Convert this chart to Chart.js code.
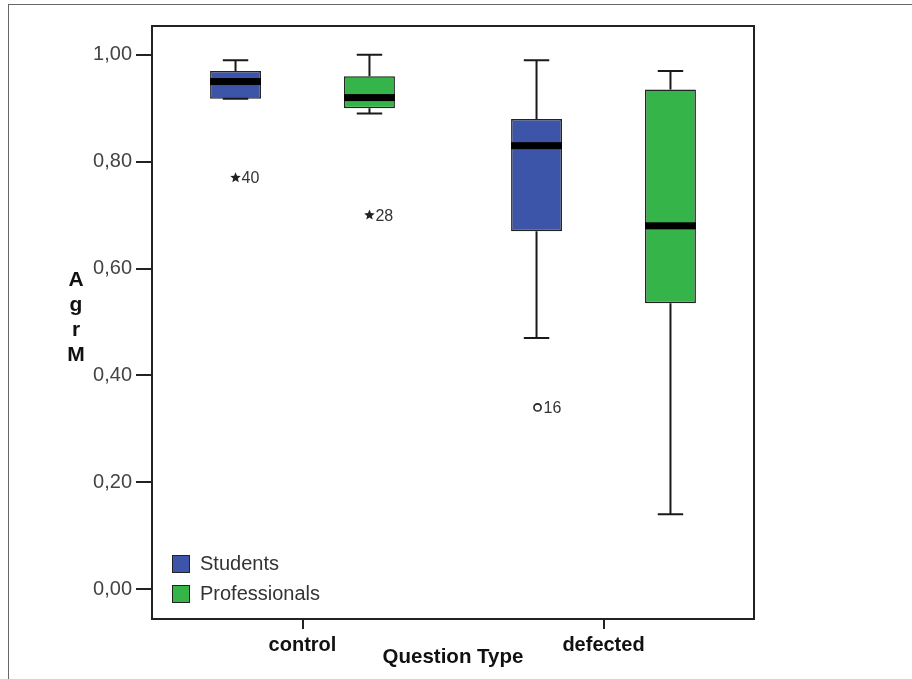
<!DOCTYPE html>
<html>
<head>
<meta charset="utf-8">
<title>AgrM by Question Type</title>
<script src="https://cdn.jsdelivr.net/npm/chart.js@4/dist/chart.umd.min.js"></script>
<style>
  html, body { margin: 0; padding: 0; background: #fff; overflow: hidden; }
  #wrap { position: relative; width: 912px; height: 679px; }
  /* outer frame of the exported figure (runs off the right and bottom edges) */
  #wrap::before {
    content: ''; position: absolute; left: 8px; top: 4px; width: 1000px; height: 1000px;
    border-left: 1px solid #666; border-top: 1px solid #666; pointer-events: none;
  }
  canvas { position: absolute; left: 0; top: 0; }
</style>
</head>
<body>
<div id="wrap"><canvas id="chart" width="912" height="679"></canvas></div>
<script>
'use strict';

/* ── data ── */
const categories   = ['control', 'defected'];
const seriesNames  = ['Students', 'Professionals'];
const seriesColors = ['#3d55a8', '#35b44a'];

const studentsLow    = [0.918, 0.47];
const studentsQ1     = [0.918, 0.67];
const studentsMedian = [0.95, 0.83];
const studentsQ3     = [0.97, 0.88];
const studentsHigh   = [0.99, 0.99];

const profLow    = [0.89, 0.14];
const profQ1     = [0.90, 0.535];
const profMedian = [0.92, 0.68];
const profQ3     = [0.96, 0.935];
const profHigh   = [1.00, 0.97];

// [category index, value, case number, marker]
const studentsOutliers = [[0, 0.77, '40', 'star'], [1, 0.34, '16', 'circle']];
const profOutliers     = [[0, 0.70, '28', 'star']];

const yTicks = [0, 0.2, 0.4, 0.6, 0.8, 1.0];

const FONT = "'Liberation Sans', Arial, Helvetica, sans-serif";
const INK  = '#1a1a1a';

function boxDataset(i, low, q1, med, q3, high, outliers) {
  return {
    label: seriesNames[i],
    data: categories.map((c, k) => [q1[k], q3[k]]),
    backgroundColor: seriesColors[i],
    borderColor: '#222',
    borderWidth: 1.5,
    borderSkipped: false,
    stats: { low, med, high, outliers }
  };
}

/* star marker for extreme values */
function drawStar(ctx, x, y, r) {
  ctx.beginPath();
  for (let k = 0; k < 10; k++) {
    const rad = k % 2 === 0 ? r : r * 0.45;
    const a = -Math.PI / 2 + k * Math.PI / 5;
    const px = x + rad * Math.cos(a), py = y + rad * Math.sin(a);
    k === 0 ? ctx.moveTo(px, py) : ctx.lineTo(px, py);
  }
  ctx.closePath();
  ctx.fill();
}

/* whiskers, medians, outliers, frame, legend, stacked y title */
const boxplotParts = {
  id: 'boxplotParts',
  afterDatasetsDraw(chart) {
    const ctx = chart.ctx;
    const y = chart.scales.y;
    ctx.save();
    chart.data.datasets.forEach((ds, di) => {
      const meta = chart.getDatasetMeta(di);
      const st = ds.stats;
      meta.data.forEach((bar, k) => {
        const x = bar.x, w = bar.width;
        const top = y.getPixelForValue(ds.data[k][1]);
        const bot = y.getPixelForValue(ds.data[k][0]);
        const hi  = y.getPixelForValue(st.high[k]);
        const lo  = y.getPixelForValue(st.low[k]);
        ctx.strokeStyle = INK;
        ctx.lineWidth = 2;
        ctx.beginPath();
        ctx.moveTo(x, top); ctx.lineTo(x, hi);
        ctx.moveTo(x - w / 4, hi); ctx.lineTo(x + w / 4, hi);
        ctx.moveTo(x, bot); ctx.lineTo(x, lo);
        ctx.moveTo(x - w / 4, lo); ctx.lineTo(x + w / 4, lo);
        ctx.stroke();
        // median bar
        const m = y.getPixelForValue(st.med[k]);
        ctx.fillStyle = '#000';
        ctx.fillRect(x - w / 2, m - 3.5, w, 7);
      });
      st.outliers.forEach(([k, v, id, mark]) => {
        const x = meta.data[k].x;
        const py = y.getPixelForValue(v);
        ctx.fillStyle = '#222';
        ctx.strokeStyle = '#222';
        if (mark === 'star') {
          drawStar(ctx, x, py, 5.5);
        } else {
          ctx.lineWidth = 1.6;
          ctx.beginPath(); ctx.arc(x + 1, py, 3.6, 0, Math.PI * 2); ctx.stroke();
        }
        ctx.fillStyle = '#333';
        ctx.font = '16px ' + FONT;
        ctx.textAlign = 'left';
        ctx.textBaseline = 'middle';
        ctx.fillText(id, x + (mark === 'star' ? 6 : 7), py + 1);
      });
    });
    ctx.restore();
  },
  afterDraw(chart) {
    const ctx = chart.ctx;
    const a = chart.chartArea;
    ctx.save();
    // plot frame
    ctx.strokeStyle = '#222';
    ctx.lineWidth = 2;
    ctx.strokeRect(a.left, a.top, a.right - a.left, a.bottom - a.top);

    // legend inside the plot, bottom left
    chart.data.datasets.forEach((ds, i) => {
      const ly = 555 + i * 30;
      ctx.fillStyle = ds.backgroundColor;
      ctx.fillRect(a.left + 20, ly, 18, 18);
      ctx.strokeStyle = '#222';
      ctx.lineWidth = 1;
      ctx.strokeRect(a.left + 20.5, ly + 0.5, 17, 17);
      ctx.fillStyle = '#333';
      ctx.font = '20px ' + FONT;
      ctx.textAlign = 'left';
      ctx.textBaseline = 'middle';
      ctx.fillText(ds.label, a.left + 48, ly + 9.5);
    });

    // y title: letters stacked
    ctx.fillStyle = '#111';
    ctx.font = 'bold 21px ' + FONT;
    ctx.textAlign = 'center';
    ctx.textBaseline = 'alphabetic';
    'AgrM'.split('').forEach((ch, i) => ctx.fillText(ch, 76, 286 + i * 25));
    ctx.restore();
  }
};

new Chart(document.getElementById('chart'), {
  type: 'bar',
  data: {
    labels: categories,
    datasets: [
      boxDataset(0, studentsLow, studentsQ1, studentsMedian, studentsQ3, studentsHigh, studentsOutliers),
      boxDataset(1, profLow, profQ1, profMedian, profQ3, profHigh, profOutliers)
    ]
  },
  options: {
    responsive: false,
    animation: false,
    categoryPercentage: 0.89,
    barPercentage: 0.38,
    layout: { padding: { left: 0, top: 26, right: 158, bottom: 0 } },
    plugins: { legend: { display: false }, tooltip: { enabled: false } },
    scales: {
      x: {
        offset: true,
        afterFit: s => { s.height = 60; },
        border: { display: false },
        grid: { offset: false, drawOnChartArea: false, drawTicks: true, tickLength: 10, color: '#222', lineWidth: 2 },
        ticks: { color: '#111', padding: 4, font: { family: FONT, size: 20, weight: 'bold' } },
        title: {
          display: true, text: 'Question Type', color: '#111',
          padding: { top: 0, bottom: 9 },
          font: { family: FONT, size: 20.5, weight: 'bold' }
        }
      },
      y: {
        min: -0.056,
        max: 1.054,
        afterFit: s => { s.width = 152; },
        afterBuildTicks: s => { s.ticks = yTicks.map(v => ({ value: v })); },
        border: { display: false },
        grid: { drawOnChartArea: false, drawTicks: true, tickLength: 16, color: '#222', lineWidth: 2 },
        ticks: {
          color: '#444', padding: 4,
          font: { family: FONT, size: 20 },
          callback: v => v.toFixed(2).replace('.', ',')
        }
      }
    }
  },
  plugins: [boxplotParts]
});
</script>
</body>
</html>
